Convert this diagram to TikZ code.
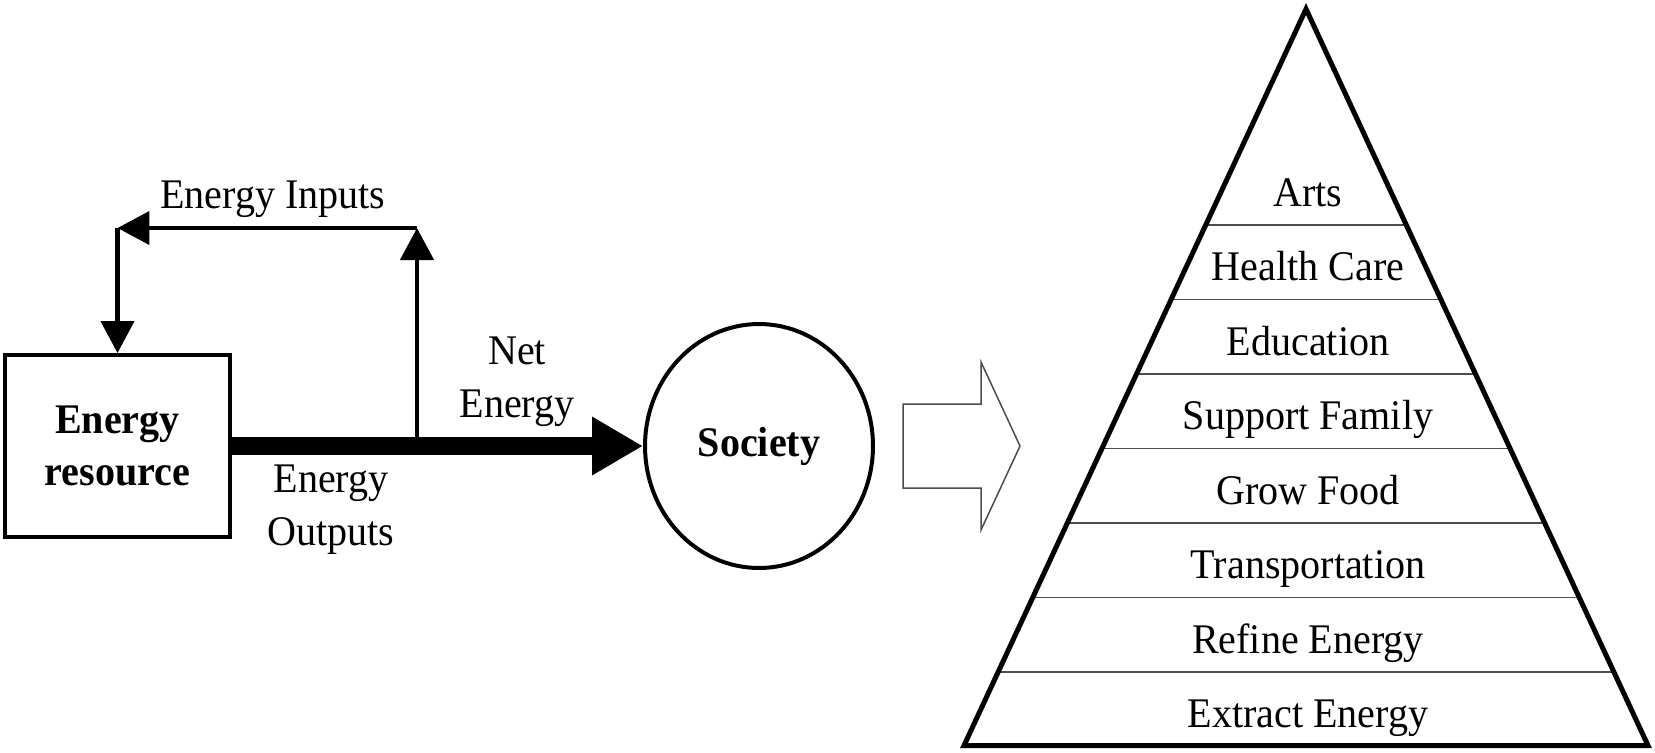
\documentclass[tikz,border=0pt]{standalone}
\usepackage{fontspec}
\setmainfont[FakeStretch=0.95]{Liberation Serif}
\usepackage{tikz}
\usetikzlibrary{shapes.geometric,arrows.meta}

\begin{document}
\begin{tikzpicture}[x=0.02cm, y=-0.02cm,
                txt/.style={font=\fontsize{24}{30}\selectfont, inner sep=0, align=center},
                boldtxt/.style={txt, font=\fontsize{24}{30}\selectfont\bfseries},
                thinarrow/.style={line width=0.09cm, -{Triangle[length=0.64cm, width=0.66cm]}},
                thickarrow/.style={line width=0.36cm, -{Triangle[length=1.02cm, width=1.1cm]}},
                band/.style={black!70, line width=0.03cm}]
                \useasboundingbox (0, 0) rectangle (1655, 752);
                \node[boldtxt, draw, line width=0.08cm, minimum width=4.5cm, minimum height=3.64cm] (res) at (117.5, 446) {Energy\\resource};
                \node[boldtxt, draw, ellipse, line width=0.08cm, minimum width=4.56cm, minimum height=4.88cm] (soc) at (759, 446) {Society};
                \coordinate (split) at (417, 446);
                \coordinate (up) at (417, 228);
                \coordinate (corner) at (117.5, 228);
                \draw[thinarrow] (split) -- (up);
                \draw[thinarrow] (up) -- (corner);
                \draw[thinarrow] (corner) -- (res.north);
                \draw[thickarrow] (res.east) -- (soc.west);
                \node[txt, anchor=base] (inputs) at (273, 208) {Energy Inputs};
                \node[txt] (net) at (517, 382) {Net\\Energy};
                \node[txt] (outputs) at (331, 510) {Energy\\Outputs};
                \draw[black!70, line width=0.03cm] (903, 404) -- (981, 404) -- (981, 362) -- (1020, 446) -- (981, 530) -- (981, 488) -- (903, 488) -- cycle;
                \draw[band] (998, 672) -- (1614, 672);
                \draw[band] (1033, 597.5) -- (1579, 597.5);
                \draw[band] (1067, 523) -- (1545, 523);
                \draw[band] (1102, 448.5) -- (1510, 448.5);
                \draw[band] (1137, 374) -- (1476, 374);
                \draw[band] (1171, 299.5) -- (1441, 299.5);
                \draw[band] (1206, 225) -- (1406, 225);
                \draw[line width=0.1cm] (1306, 9) -- (1648, 745.5) -- (964, 745.5) -- cycle;
                \node[txt, anchor=base] (extract) at (1308, 727) {Extract Energy};
                \node[txt, anchor=base] (refine) at (1308, 653) {Refine Energy};
                \node[txt, anchor=base] (transport) at (1308, 578.5) {Transportation};
                \node[txt, anchor=base] (food) at (1308, 504) {Grow Food};
                \node[txt, anchor=base] (family) at (1308, 429.5) {Support Family};
                \node[txt, anchor=base] (education) at (1308, 355) {Education};
                \node[txt, anchor=base] (health) at (1308, 280.5) {Health Care};
                \node[txt, anchor=base] (arts) at (1308, 206) {Arts};
            \end{tikzpicture}
\end{document}
